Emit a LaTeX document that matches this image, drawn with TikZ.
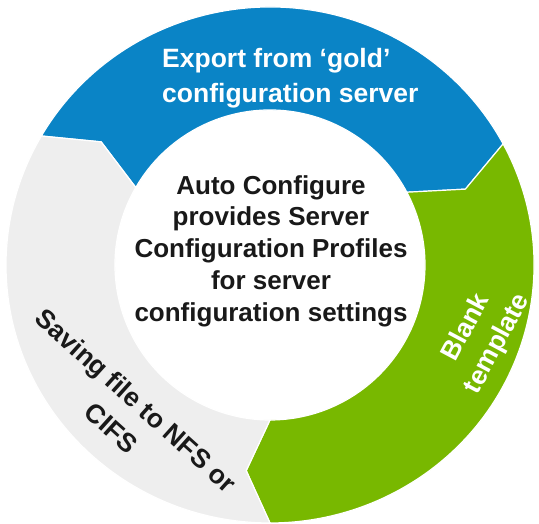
\documentclass[tikz,border=0pt]{standalone}
\usepackage{fontspec}
\setmainfont{Liberation Sans}
\usetikzlibrary{calc}
\definecolor{dblue}{HTML}{0A84C6}
\definecolor{dgreen}{HTML}{78B800}
\definecolor{dgray}{HTML}{EEEEEE}
\newcommand\ringseg[3]{%
  \path[fill=#3, draw=white, line width=1.2pt, line join=miter]
    ($(C)+(#1:264pt and 258pt)$)
    arc[start angle=#1, end angle=#2, x radius=264pt, y radius=258pt]
    -- ($(C)+({#2-6.5}:210pt and 207pt)$)
    -- ($(C)+(#2:155pt)$)
    arc[start angle=#2, end angle=#1, radius=155pt]
    -- ($(C)+({#1-6.5}:210pt and 207pt)$)
    -- cycle;}
\tikzset{
  lbl/.style={align=center, inner sep=0pt, font=\fontsize{26.5}{35}\selectfont\bfseries},
  ctr/.style={align=center, inner sep=0pt, font=\fontsize{26}{31.7}\selectfont\bfseries, text=black!90}
}
\begin{document}
\begin{tikzpicture}[x=1pt,y=1pt]
\fill[white] (0,0) rectangle (539,524);
\useasboundingbox (0,0) rectangle (539,524);
\coordinate (C) at (270,259);
\ringseg{150}{28}{dblue}
\ringseg{28}{-90}{dgreen}
\ringseg{-90}{-210}{dgray}
\node[ctr] (center) at (271,273) {Auto Configure\\provides Server\\Configuration Profiles\\for server\\configuration settings};
\node[lbl, align=left, anchor=west, text=white] (export) at (162,446) {Export from ‘gold’\\configuration server};
\node[lbl, text=white, rotate=62] (blank) at (482,188) {Blank\\template};
\node[lbl, text=black!90, rotate=-42, font=\fontsize{26.5}{37}\selectfont\bfseries] (saving) at (124,110) {Saving file to NFS or\\CIFS};
\end{tikzpicture}
\end{document}
